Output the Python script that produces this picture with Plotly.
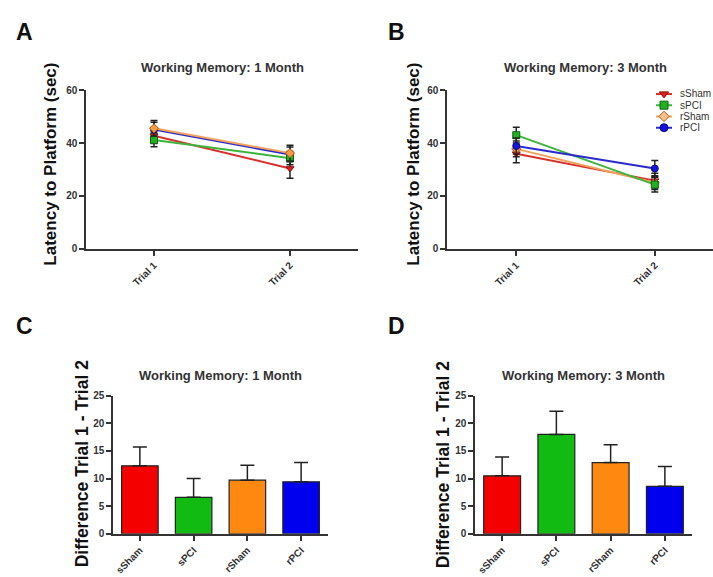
import plotly.graph_objects as go

W, H = 713, 577

groups = ["sSham", "sPCI", "rSham", "rPCI"]
trials = ["Trial 1", "Trial 2"]

# Line charts (mean latency, SEM)
lat_1m = {"sSham": [42.8, 30.4], "sPCI": [41.2, 34.3], "rSham": [45.6, 36.2], "rPCI": [45.1, 35.7]}
err_1m = {"sSham": [3.0, 3.7], "sPCI": [2.6, 2.5], "rSham": [2.9, 3.0], "rPCI": [2.8, 2.8]}
lat_3m = {"sSham": [36.0, 25.8], "sPCI": [43.0, 24.3], "rSham": [37.8, 25.0], "rPCI": [38.9, 30.4]}
err_3m = {"sSham": [3.4, 2.8], "sPCI": [3.0, 2.8], "rSham": [3.0, 2.6], "rPCI": [3.0, 3.0]}

# Bar charts (difference trial1 - trial2, SEM)
diff_1m = [12.3, 6.6, 9.7, 9.4]
diff_1m_err = [3.4, 3.4, 2.7, 3.5]
diff_3m = [10.5, 18.0, 12.9, 8.6]
diff_3m_err = [3.4, 4.2, 3.2, 3.6]

line_colors = {"sSham": "#d9302c", "sPCI": "#3cb53c", "rSham": "#f2a25a", "rPCI": "#2a2ad0"}
marker_fill = {"sSham": "#e0201c", "sPCI": "#22b022", "rSham": "#f39a45", "rPCI": "#1414dd"}
marker_line = {"sSham": "#8a1010", "sPCI": "#116611", "rSham": "#b05a10", "rPCI": "#0a0a80"}
symbols = {"sSham": "triangle-down", "sPCI": "square", "rSham": "diamond", "rPCI": "circle"}
bar_colors = ["#f50000", "#11bb11", "#ff8811", "#0000ee"]

draw_order_1m = ["rPCI", "sSham", "sPCI", "rSham"]
draw_order_3m = ["sSham", "rSham", "sPCI", "rPCI"]


def px_x(p):
    return p / W


def px_y(p):
    return 1 - p / H


fig = go.Figure()

for axn, data, err, order in [("", lat_1m, err_1m, draw_order_1m), ("2", lat_3m, err_3m, draw_order_3m)]:
    for g in order:
        fig.add_trace(go.Scatter(
            x=[0, 1], y=data[g], mode="lines+markers",
            xaxis="x" + axn, yaxis="y" + axn,
            line=dict(color=line_colors[g], width=2),
            marker=dict(symbol=symbols[g], size=7, color=marker_fill[g],
                        line=dict(color=marker_line[g], width=1)),
            error_y=dict(type="data", array=err[g], color="#222222", thickness=1.5, width=3.5),
            showlegend=False,
        ))

for axn, vals, errs in [("3", diff_1m, diff_1m_err), ("4", diff_3m, diff_3m_err)]:
    fig.add_trace(go.Bar(
        x=list(range(len(groups))), y=vals, xaxis="x" + axn, yaxis="y" + axn,
        marker=dict(color=bar_colors, line=dict(color="#222222", width=1.2)),
        width=0.68,
        error_y=dict(type="data", array=errs, symmetric=False, arrayminus=[0] * 4,
                     color="#222222", thickness=1.5, width=7),
        showlegend=False,
    ))

# custom compact legend (panel B)
for i, g in enumerate(groups):
    fig.add_trace(go.Scatter(
        x=[0, 1], y=[i, i], mode="lines", xaxis="x5", yaxis="y5",
        line=dict(color=line_colors[g], width=2), showlegend=False, hoverinfo="skip"))
    fig.add_trace(go.Scatter(
        x=[0.5], y=[i], mode="markers", xaxis="x5", yaxis="y5",
        marker=dict(symbol=symbols[g], size=8,
                    color=("#f7c08a" if g == "rSham" else marker_fill[g]),
                    line=dict(color=marker_line[g], width=1)),
        showlegend=False, hoverinfo="skip"))

tickfont = dict(family="Liberation Sans, Arial", size=10, color="#333333")
common_x = dict(showline=True, linecolor="#333333", linewidth=1.5, ticks="outside",
                ticklen=5, tickwidth=1.5, tickcolor="#333333", showgrid=False, zeroline=False,
                tickangle=-45, tickfont=tickfont, fixedrange=True)
common_y = dict(showline=True, linecolor="#333333", linewidth=1.5, ticks="outside",
                ticklen=5, tickwidth=1.5, tickcolor="#333333", showgrid=False, zeroline=False,
                tickfont=tickfont, fixedrange=True)

fig.update_layout(
    width=W, height=H, margin=dict(l=0, r=0, t=0, b=0),
    paper_bgcolor="white", plot_bgcolor="white", showlegend=False,
    font=dict(family="Liberation Sans, Arial", color="#222222"),
    xaxis=dict(domain=[px_x(86), px_x(358)], range=[-0.5, 1.5], tickvals=[0, 1],
               ticktext=[f"<b>{t}</b>" for t in trials], anchor="y", **common_x),
    yaxis=dict(domain=[px_y(248), px_y(86)], range=[0, 60], tickvals=[0, 20, 40, 60],
               ticktext=["<b>0</b>", "<b>20</b>", "<b>40</b>", "<b>60</b>"], anchor="x", **common_y),
    xaxis2=dict(domain=[px_x(447), 1], range=[-0.5, 1.42], tickvals=[0, 1],
                ticktext=[f"<b>{t}</b>" for t in trials], anchor="y2", **common_x),
    yaxis2=dict(domain=[px_y(248), px_y(86)], range=[0, 60], tickvals=[0, 20, 40, 60],
                ticktext=["<b>0</b>", "<b>20</b>", "<b>40</b>", "<b>60</b>"], anchor="x2", **common_y),
    xaxis3=dict(domain=[px_x(113), px_x(328)], range=[-0.5, 3.5], tickvals=[0, 1, 2, 3],
                ticktext=[f"<b>{g}</b>" for g in groups], anchor="y3", **common_x),
    yaxis3=dict(domain=[px_y(539), px_y(398)], range=[0, 25], tickvals=[0, 5, 10, 15, 20, 25],
                ticktext=[f"<b>{v}</b>" for v in [0, 5, 10, 15, 20, 25]], anchor="x3", **common_y),
    xaxis4=dict(domain=[px_x(475), px_x(692)], range=[-0.5, 3.5], tickvals=[0, 1, 2, 3],
                ticktext=[f"<b>{g}</b>" for g in groups], anchor="y4", **common_x),
    yaxis4=dict(domain=[px_y(539), px_y(398)], range=[0, 25], tickvals=[0, 5, 10, 15, 20, 25],
                ticktext=[f"<b>{v}</b>" for v in [0, 5, 10, 15, 20, 25]], anchor="x4", **common_y),
    xaxis5=dict(domain=[px_x(656), px_x(672)], range=[0, 1], visible=False, anchor="y5", fixedrange=True),
    yaxis5=dict(domain=[px_y(130), px_y(84)], range=[3.5, -0.5], visible=False, anchor="x5", fixedrange=True),
)

ann = []
# panel letters
for letter, x, y in [("A", 14, 27), ("B", 386, 27), ("C", 14, 327), ("D", 386, 327)]:
    ann.append(dict(text=f"<b>{letter}</b>", x=px_x(x), y=px_y(y), xref="paper", yref="paper",
                    xanchor="left", yanchor="middle", showarrow=False,
                    font=dict(size=23, color="#111111", family="Liberation Sans, Arial")))
# panel titles
for txt, x, y in [("Working Memory: 1 Month", 222, 63), ("Working Memory: 3 Month", 585, 63),
                  ("Working Memory: 1 Month", 220, 377), ("Working Memory: 3 Month", 583, 377)]:
    ann.append(dict(text=f"<b>{txt}</b>", x=px_x(x), y=px_y(y), xref="paper", yref="paper",
                    xanchor="center", yanchor="middle", showarrow=False,
                    font=dict(size=13, color="#333333", family="Liberation Sans, Arial")))
# axis titles
for txt, x, y, s in [("Latency to Platform (sec)", 51, 162, 17), ("Latency to Platform (sec)", 414, 162, 17),
                     ("Difference Trial 1 - Trial 2", 82, 468, 17.5),
                     ("Difference Trial 1 - Trial 2", 443, 468, 17.5)]:
    ann.append(dict(text=f"<b>{txt}</b>", x=px_x(x), y=px_y(y), xref="paper", yref="paper",
                    xanchor="center", yanchor="middle", showarrow=False, textangle=-90,
                    font=dict(size=s, color="#111111", family="Liberation Sans, Arial")))
# legend labels
for i, g in enumerate(groups):
    ann.append(dict(text=g, x=px_x(678), y=i, xref="paper", yref="y5",
                    xanchor="left", yanchor="middle", showarrow=False,
                    font=dict(size=10, color="#333333", family="Liberation Sans, Arial")))
fig.update_layout(annotations=ann)

fig.write_html("out.html")
